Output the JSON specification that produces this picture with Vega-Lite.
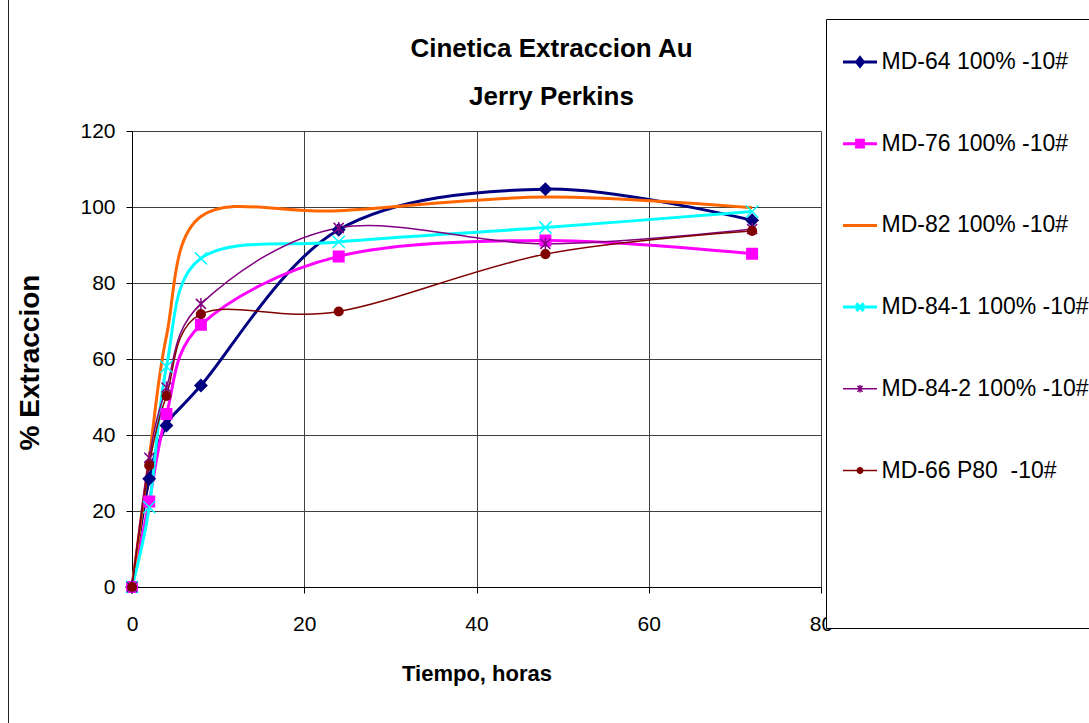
{
  "$schema": "https://vega.github.io/schema/vega-lite/v6.json",
  "autosize": "none",
  "padding": {"left": 132, "top": 131, "right": 268, "bottom": 136},
  "width": 689,
  "height": 456,
  "background": "white",
  "title": {
    "text": ["Cinetica Extraccion Au", "Jerry Perkins"],
    "font": "Liberation Sans",
    "fontSize": 26,
    "fontWeight": "bold",
    "color": "black",
    "anchor": "middle",
    "frame": "group",
    "baseline": "alphabetic",
    "dx": 75,
    "dy": 160,
    "lineHeight": 48.7,
    "offset": 20
  },
  "data": {
    "values": [
      {"series": "MD-64 100% -10#", "t": 0, "v": 0},
      {"series": "MD-64 100% -10#", "t": 2, "v": 28.5},
      {"series": "MD-64 100% -10#", "t": 4, "v": 42.5},
      {"series": "MD-64 100% -10#", "t": 8, "v": 53},
      {"series": "MD-64 100% -10#", "t": 24, "v": 94},
      {"series": "MD-64 100% -10#", "t": 48, "v": 104.7},
      {"series": "MD-64 100% -10#", "t": 72, "v": 96.5},
      {"series": "MD-76 100% -10#", "t": 0, "v": 0},
      {"series": "MD-76 100% -10#", "t": 2, "v": 22.5},
      {"series": "MD-76 100% -10#", "t": 4, "v": 45.5},
      {"series": "MD-76 100% -10#", "t": 8, "v": 69},
      {"series": "MD-76 100% -10#", "t": 24, "v": 87},
      {"series": "MD-76 100% -10#", "t": 48, "v": 91.2},
      {"series": "MD-76 100% -10#", "t": 72, "v": 87.7},
      {"series": "MD-82 100% -10#", "t": 0, "v": 0},
      {"series": "MD-82 100% -10#", "t": 2, "v": 34},
      {"series": "MD-82 100% -10#", "t": 4, "v": 66},
      {"series": "MD-82 100% -10#", "t": 8, "v": 97.5},
      {"series": "MD-82 100% -10#", "t": 24, "v": 99},
      {"series": "MD-82 100% -10#", "t": 48, "v": 102.6},
      {"series": "MD-82 100% -10#", "t": 72, "v": 99.8},
      {"series": "MD-84-1 100% -10#", "t": 0, "v": 0},
      {"series": "MD-84-1 100% -10#", "t": 2, "v": 21},
      {"series": "MD-84-1 100% -10#", "t": 4, "v": 58},
      {"series": "MD-84-1 100% -10#", "t": 8, "v": 86.5},
      {"series": "MD-84-1 100% -10#", "t": 24, "v": 90.8},
      {"series": "MD-84-1 100% -10#", "t": 48, "v": 94.6},
      {"series": "MD-84-1 100% -10#", "t": 72, "v": 98.8},
      {"series": "MD-84-2 100% -10#", "t": 0, "v": 0},
      {"series": "MD-84-2 100% -10#", "t": 2, "v": 34},
      {"series": "MD-84-2 100% -10#", "t": 4, "v": 52.5},
      {"series": "MD-84-2 100% -10#", "t": 8, "v": 74.5},
      {"series": "MD-84-2 100% -10#", "t": 24, "v": 94.5},
      {"series": "MD-84-2 100% -10#", "t": 48, "v": 90.3},
      {"series": "MD-84-2 100% -10#", "t": 72, "v": 94.2},
      {"series": "MD-66 P80\u00a0 -10#", "t": 0, "v": 0},
      {"series": "MD-66 P80\u00a0 -10#", "t": 2, "v": 32},
      {"series": "MD-66 P80\u00a0 -10#", "t": 4, "v": 50.3},
      {"series": "MD-66 P80\u00a0 -10#", "t": 8, "v": 71.8},
      {"series": "MD-66 P80\u00a0 -10#", "t": 24, "v": 72.5},
      {"series": "MD-66 P80\u00a0 -10#", "t": 48, "v": 87.6},
      {"series": "MD-66 P80\u00a0 -10#", "t": 72, "v": 93.7}
    ]
  },
  "encoding": {
    "x": {
      "field": "t", "type": "quantitative",
      "scale": {"domain": [0, 80], "nice": false},
      "axis": {
        "values": [0, 20, 40, 60, 80],
        "labelFlush": false,
        "title": "Tiempo, horas",
        "titleFont": "Liberation Sans",
        "titleFontSize": 22,
        "titleFontWeight": "bold",
        "titleBaseline": "alphabetic",
        "titleY": 93,
        "labelPadding": 20
      }
    },
    "y": {
      "field": "v", "type": "quantitative",
      "scale": {"domain": [0, 120], "nice": false},
      "axis": {
        "values": [0, 20, 40, 60, 80, 100, 120],
        "labelFlush": false,
        "title": "% Extraccion",
        "titleFont": "Liberation Sans",
        "titleFontSize": 28,
        "titleFontWeight": "bold",
        "titleAngle": -90,
        "titleAlign": "center",
        "titleBaseline": "alphabetic",
        "titleX": -94,
        "titleY": 231,
        "labelPadding": 11
      }
    }
  },
  "layer": [
    {
      "mark": {"type": "line", "interpolate": "cardinal"},
      "encoding": {
        "color": {
          "field": "series", "type": "nominal",
          "scale": {
            "domain": ["MD-64 100% -10#", "MD-76 100% -10#", "MD-82 100% -10#", "MD-84-1 100% -10#", "MD-84-2 100% -10#", "MD-66 P80\u00a0 -10#"],
            "range": ["#000080", "#FF00FF", "#FF6600", "#00FFFF", "#800080", "#800000"]
          },
          "legend": {
            "orient": "none",
            "legendX": 694,
            "legendY": -112,
            "title": "\u00a0",
            "titleOrient": "bottom",
            "titleFontSize": 10,
            "titlePadding": 104,
            "padding": 17,
            "strokeColor": "black",
            "fillColor": "white",
            "clipHeight": 52,
            "rowPadding": 29.7,
            "symbolSize": 1156,
            "symbolOffset": 5.5,
            "labelOffset": 10,
            "labelLimit": 800,
            "labelFont": "Liberation Sans",
            "labelFontSize": 23,
            "labelColor": "black",
            "labelExpr": "datum.label + '\u00a0\u00a0\u00a0\u00a0\u00a0\u00a0\u00a0\u00a0\u00a0\u00a0\u00a0\u00a0\u00a0\u00a0\u00a0\u00a0\u00a0\u00a0\u00a0\u00a0\u00a0\u00a0'",
            "encode": {
              "symbols": {
                "update": {
                  "size": {"value": 1156},
                  "shape": {"signal": "datum.value == 'MD-64 100% -10#' ? 'M-1,0L1,0M0,-0.25L0.2,0L0,0.25L-0.2,0Z' : datum.value == 'MD-76 100% -10#' ? 'M-1,0L1,0M-0.2,-0.2L0.2,-0.2L0.2,0.2L-0.2,0.2Z' : datum.value == 'MD-84-1 100% -10#' ? 'M-1,0L1,0M-0.22,-0.22L0.22,0.22M-0.22,0.22L0.22,-0.22' : datum.value == 'MD-84-2 100% -10#' ? 'M-1,0L1,0M-0.15,-0.18L0.15,0.18M-0.15,0.18L0.15,-0.18M0,-0.22L0,0.22' : datum.value == 'MD-82 100% -10#' ? 'M-1,0L1,0' : 'M-1,0L1,0M0.17,0L0.12,0.12L0,0.17L-0.12,0.12L-0.17,0L-0.12,-0.12L0,-0.17L0.12,-0.12Z'"},
                  "fill": {"signal": "datum.value == 'MD-64 100% -10#' ? '#000080' : datum.value == 'MD-76 100% -10#' ? '#FF00FF' : datum.value == 'MD-82 100% -10#' ? '#FF6600' : datum.value == 'MD-84-1 100% -10#' ? '#00FFFF' : datum.value == 'MD-84-2 100% -10#' ? '#800080' : '#800000'"},
                  "stroke": {"signal": "datum.value == 'MD-64 100% -10#' ? '#000080' : datum.value == 'MD-76 100% -10#' ? '#FF00FF' : datum.value == 'MD-82 100% -10#' ? '#FF6600' : datum.value == 'MD-84-1 100% -10#' ? '#00FFFF' : datum.value == 'MD-84-2 100% -10#' ? '#800080' : '#800000'"},
                  "strokeWidth": {"signal": "(datum.value == 'MD-84-2 100% -10#' || datum.value == 'MD-66 P80\u00a0 -10#') ? 1.5 : 3"},
                  "opacity": {"value": 1}
                }
              }
            }
          }
        },
        "strokeWidth": {
          "condition": {"test": "datum.series == 'MD-84-2 100% -10#' || datum.series == 'MD-66 P80\u00a0 -10#'", "value": 1.5},
          "value": 3
        }
      }
    },
    {
      "transform": [{"filter": "datum.series != 'MD-82 100% -10#'"}],
      "mark": {"type": "point", "filled": true, "strokeWidth": 1.5},
      "encoding": {
        "color": {"field": "series", "type": "nominal"},
        "opacity": {
          "field": "t", "type": "quantitative",
          "scale": {"range": [1, 1]},
          "legend": {
            "orient": "none",
            "legendX": -124,
            "legendY": -139,
            "title": null,
            "padding": 1100,
            "strokeColor": "#222222",
            "fillColor": null,
            "symbolOpacity": 0,
            "symbolFillColor": "transparent",
            "symbolStrokeColor": "transparent",
            "labelOpacity": 0,
            "symbolStrokeWidth": 0,
            "encode": {
              "symbols": {"update": {"opacity": {"value": 0}, "fillOpacity": {"value": 0}, "strokeOpacity": {"value": 0}}},
              "labels": {"update": {"opacity": {"value": 0}, "fillOpacity": {"value": 0}}}
            }
          }
        },
        "stroke": {
          "field": "series", "type": "nominal",
          "scale": {
            "domain": ["MD-64 100% -10#", "MD-76 100% -10#", "MD-82 100% -10#", "MD-84-1 100% -10#", "MD-84-2 100% -10#", "MD-66 P80\u00a0 -10#"],
            "range": ["#000080", "#FF00FF", "#FF6600", "#00FFFF", "#800080", "#800000"]
          },
          "legend": null
        },
        "shape": {
          "field": "series", "type": "nominal",
          "scale": {
            "domain": ["MD-64 100% -10#", "MD-76 100% -10#", "MD-84-1 100% -10#", "MD-84-2 100% -10#", "MD-66 P80\u00a0 -10#"],
            "range": ["diamond", "square", "M-1,-1L1,1M-1,1L1,-1", "M-1,-1L1,1M-1,1L1,-1M0,-1.2L0,1.2", "circle"]
          },
          "legend": null
        },
        "size": {
          "condition": [
            {"test": "datum.series == 'MD-64 100% -10#'", "value": 140},
            {"test": "datum.series == 'MD-76 100% -10#'", "value": 110},
            {"test": "datum.series == 'MD-84-1 100% -10#'", "value": 150},
            {"test": "datum.series == 'MD-84-2 100% -10#'", "value": 100}
          ],
          "value": 75
        }
      }
    }
  ],
  "config": {
    "font": "Liberation Sans",
    "view": {"stroke": null},
    "axis": {
      "labelFont": "Liberation Sans",
      "labelFontSize": 21,
      "labelColor": "black",
      "titleColor": "black",
      "grid": true,
      "gridColor": "#404040",
      "gridWidth": 1,
      "gridOpacity": 1,
      "domainColor": "black",
      "domainWidth": 1,
      "tickColor": "black",
      "tickSize": 6,
      "tickWidth": 1
    }
  }
}
